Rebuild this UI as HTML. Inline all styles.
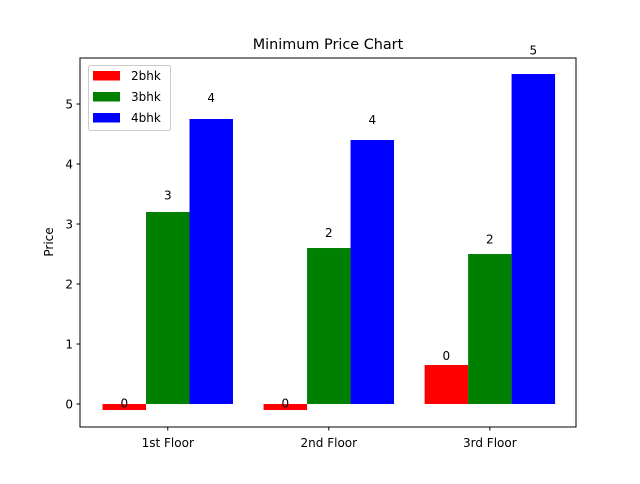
<!DOCTYPE html>
<html><head><meta charset="utf-8"><style>
body{margin:0;background:#fff;font-family:"DejaVu Sans","Liberation Sans",sans-serif;}
svg text{font-family:"DejaVu Sans","Liberation Sans",sans-serif;}
</style></head><body>
<svg id="c" width="640" height="480" xmlns="http://www.w3.org/2000/svg">
<rect width="640" height="480" fill="#fff"/>
<g id="plot"></g>
<rect x="80" y="58" width="496" height="369" fill="none" stroke="#000" stroke-width="1"/>
<text x="328" y="49" font-size="14.4" text-anchor="middle">Minimum Price Chart</text>
<text transform="translate(53,242) rotate(-90)" font-size="12" text-anchor="middle">Price</text>
<g>
<rect x="88.5" y="65.5" width="82" height="65" rx="2" fill="#fff" fill-opacity="0.8" stroke="#ccc"/>
<rect x="93" y="71" width="27" height="9.5" fill="red"/>
<text x="131" y="80" font-size="12">2bhk</text>
<rect x="93" y="92" width="27" height="9.5" fill="green"/>
<text x="131" y="101" font-size="12">3bhk</text>
<rect x="93" y="113" width="27" height="9.5" fill="blue"/>
<text x="131" y="122" font-size="12">4bhk</text>
</g>
</svg>
<script>
const categories = ["1st Floor","2nd Floor","3rd Floor"];
const series2bhk = [-0.1,-0.1,0.65];
const series3bhk = [3.2,2.6,2.5];
const series4bhk = [4.75,4.4,5.5];
const yTicks = [0,1,2,3,4,5];
const NS="http://www.w3.org/2000/svg";
const g=document.getElementById('plot');
const X0=80,X1=576,Y0=427,Y1=58,xmin=-0.545,xmax=2.535,ymin=-0.383,ymax=5.767;
function sx(v){return X0+(v-xmin)/(xmax-xmin)*(X1-X0);}
function sy(v){return Y0-(v-ymin)/(ymax-ymin)*(Y0-Y1);}
function mk(t,a){const e=document.createElementNS(NS,t);for(const k in a)e.setAttribute(k,a[k]);g.appendChild(e);return e;}
const W=0.27;
const groups=[["2bhk",series2bhk,"red",-W],["3bhk",series3bhk,"green",0],["4bhk",series4bhk,"blue",W]];
groups.forEach(([nm,vals,col,off])=>{
 vals.forEach((v,i)=>{
  const xl=sx(i+off-W/2),xr=sx(i+off+W/2);
  const ya=sy(Math.max(v,0)),yb=sy(Math.min(v,0));
  const r=mk('rect',{x:xl,y:ya,width:xr-xl,height:yb-ya,fill:col});
  
  
  const t=mk('text',{x:(xl+xr)/2,y:sy(1.05*v)-3,'font-size':12,'text-anchor':'middle'});
  t.textContent=String(Math.trunc(v));
  
  
 });
});
yTicks.forEach(v=>{
 const y=sy(v);
 const l=mk('line',{x1:X0-3.5,x2:X0,y1:y,y2:y,stroke:'#000'});
 
 
 const t=mk('text',{x:X0-7,y:y+4.5,'font-size':12,'text-anchor':'end'});
 t.textContent=v;
 
 
});
categories.forEach((c,i)=>{
 const x=sx(i);
 const l=mk('line',{x1:x,x2:x,y1:Y0,y2:Y0+3.5,stroke:'#000'});
 
 
 const t=mk('text',{x:x,y:Y0+20,'font-size':12,'text-anchor':'middle'});
 t.textContent=c;
 
 
});
</script>
</body></html>
